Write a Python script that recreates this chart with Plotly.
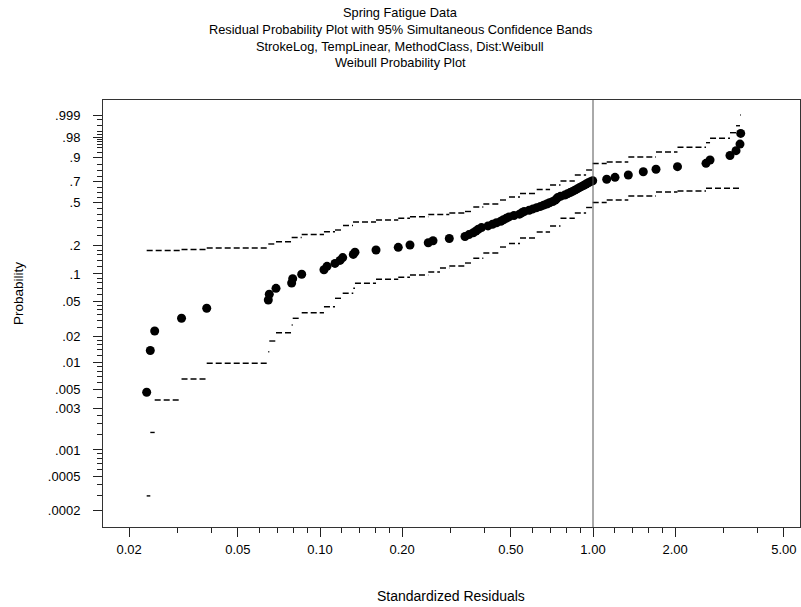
import numpy as np
import plotly.graph_objects as go

# ---------------- data ----------------
resid = [0.02318, 0.02390, 0.02480, 0.03110, 0.03846, 0.06465, 0.06520, 0.06900, 0.07874, 0.07943,
         0.08570, 0.1034, 0.1061, 0.1135, 0.1184, 0.1211, 0.1324, 0.1343, 0.1604, 0.1935,
         0.2136, 0.2492, 0.2594, 0.2976, 0.3397, 0.3513, 0.3643, 0.3727, 0.3800, 0.3904,
         0.4125, 0.4284, 0.4431, 0.4595, 0.4700, 0.4809, 0.4924, 0.5135, 0.5379, 0.5484,
         0.5597, 0.5838, 0.6028, 0.6219, 0.6422, 0.6592, 0.6767, 0.6929, 0.7124, 0.7275,
         0.7349, 0.7424, 0.7601, 0.7876, 0.8062, 0.8248, 0.8412, 0.8577, 0.8752, 0.8916,
         0.9091, 0.9262, 0.9435, 0.9611, 0.9791, 0.9975, 1.1225, 1.2040, 1.3469, 1.5283,
         1.7013, 2.0393, 2.5938, 2.6837, 3.1756, 3.3412, 3.4551, 3.4756]
prob = [0.0046, 0.0138, 0.0230, 0.0321, 0.0416, 0.0515, 0.0597, 0.0695, 0.0796, 0.0888,
        0.0994, 0.1110, 0.1210, 0.1300, 0.1400, 0.1500, 0.1620, 0.1710, 0.1800, 0.1920,
        0.2030, 0.2140, 0.2240, 0.2360, 0.2470, 0.258, 0.269, 0.280, 0.291, 0.302,
        0.313, 0.324, 0.335, 0.346, 0.357, 0.368, 0.379, 0.390, 0.401, 0.412,
        0.423, 0.434, 0.445, 0.456, 0.467, 0.478, 0.489, 0.500, 0.512, 0.524,
        0.536, 0.548, 0.560, 0.572, 0.584, 0.596, 0.608, 0.620, 0.632, 0.644,
        0.656, 0.668, 0.680, 0.692, 0.702, 0.711, 0.7245, 0.743, 0.764, 0.793,
        0.814, 0.835, 0.860, 0.883, 0.911, 0.936, 0.962, 0.987]

upper_x = [0.02318, 0.03110, 0.03846, 0.06465, 0.06900, 0.07874, 0.08570, 0.1034, 0.1135, 0.1214,
           0.1321, 0.1604, 0.1935, 0.2136, 0.2492, 0.2976, 0.3397, 0.3643, 0.3965, 0.4564,
           0.4924, 0.5403, 0.6219, 0.6961, 0.7601, 0.8577, 0.9435, 0.9975, 1.1225, 1.3469,
           1.7013, 2.0393, 2.5938, 2.6837, 3.1756, 3.3412, 3.4551]
upper_p = [0.1780, 0.1823, 0.1889, 0.2077, 0.2192, 0.2416, 0.2587, 0.2756, 0.2862, 0.3160,
           0.3407, 0.3554, 0.3684, 0.3808, 0.3983, 0.4105, 0.4231, 0.4618, 0.4887, 0.5255,
           0.5538, 0.5874, 0.6263, 0.6700, 0.7084, 0.7641, 0.8077, 0.8589, 0.8696, 0.9022,
           0.9297, 0.9505, 0.9665, 0.9779, 0.9880, 0.9951, 0.99914]

lower_x = [0.02318, 0.02390, 0.02480, 0.03110, 0.03846, 0.06465, 0.06520, 0.06900, 0.07874, 0.07943,
           0.08570, 0.1034, 0.1135, 0.1211, 0.1324, 0.1343, 0.1604, 0.1935, 0.2136, 0.2492,
           0.2751, 0.2976, 0.3397, 0.3643, 0.3965, 0.4564, 0.4924, 0.5403, 0.6219, 0.6961,
           0.7601, 0.8577, 0.9435, 0.9975, 1.1225, 1.3469, 1.7013, 2.0393, 2.5938]
lower_p = [0.000297, 0.00159, 0.00375, 0.00652, 0.00986, 0.01339, 0.01772, 0.02203, 0.02694, 0.03209,
           0.03711, 0.04335, 0.05386, 0.06122, 0.06955, 0.07902, 0.08741, 0.09195, 0.0974, 0.1051,
           0.1160, 0.1219, 0.1313, 0.1474, 0.1676, 0.1934, 0.2101, 0.2388, 0.2737, 0.3126,
           0.3684, 0.4105, 0.4574, 0.5023, 0.5255, 0.5634, 0.6020, 0.6117, 0.6380]
band_end = 3.4756

y_tick_p = [0.0002, 0.0005, 0.001, 0.003, 0.005, 0.01, 0.02, 0.05, 0.1, 0.2, 0.5, 0.7, 0.9, 0.98, 0.999]
y_tick_txt = ['.0002', '.0005', '.001', '.003', '.005', '.01', '.02', '.05', '.1', '.2', '.5', '.7', '.9', '.98', '.999']
y_minor_p = [0.0003, 0.0004, 0.0006, 0.0007, 0.0008, 0.0009, 0.0015, 0.002, 0.0025, 0.004,
             0.006, 0.007, 0.008, 0.009, 0.012, 0.014, 0.016, 0.018, 0.025, 0.03, 0.035, 0.04, 0.045,
             0.06, 0.07, 0.08, 0.09, 0.12, 0.14, 0.16, 0.18, 0.25, 0.3, 0.35, 0.4, 0.45,
             0.55, 0.6, 0.65, 0.75, 0.8, 0.85, 0.925, 0.95, 0.96, 0.97, 0.975, 0.985, 0.99, 0.995, 0.998]
x_tick_v = [0.02, 0.05, 0.1, 0.2, 0.5, 1, 2, 5]
x_tick_txt = ['0.02', '0.05', '0.10', '0.20', '0.50', '1.00', '2.00', '5.00']
x_minor_v = [0.03, 0.04, 0.06, 0.07, 0.08, 0.09, 0.12, 0.14, 0.16, 0.18, 0.3, 0.4, 0.6, 0.7, 0.8, 0.9,
             1.2, 1.4, 1.6, 1.8, 3, 4]

title_lines = ["Spring Fatigue Data",
               "Residual Probability Plot with 95% Simultaneous Confidence Bands",
               "StrokeLog, TempLinear, MethodClass, Dist:Weibull",
               "Weibull Probability Plot"]


def wb(p):
    p = np.asarray(p, dtype=float)
    return np.log(-np.log(1.0 - p))


def step_segments(xs, ps, xend):
    ws = wb(ps)
    xx, yy = [], []
    for i in range(len(xs)):
        x1 = xs[i + 1] if i + 1 < len(xs) else xend
        xx += [xs[i], x1, None]
        yy += [ws[i], ws[i], None]
    return xx, yy


FONT = "Liberation Sans, Arial, sans-serif"
fig = go.Figure()

ux, uy = step_segments(upper_x, upper_p, band_end)
lx, ly = step_segments(lower_x, lower_p, band_end)
for xx, yy in [(ux, uy), (lx, ly)]:
    fig.add_trace(go.Scatter(x=xx, y=yy, mode='lines', connectgaps=False,
                             line=dict(color='black', width=1.4, dash='6px,3px'),
                             hoverinfo='skip', showlegend=False))

fig.add_trace(go.Scatter(x=resid, y=wb(prob), mode='markers',
                         marker=dict(color='black', size=9, line=dict(width=0)),
                         showlegend=False))

L, R, T, B = 103, 1, 100, 80
W, H = 801, 607
pw, ph = W - L - R, H - T - B


def px2paper(xp, yp):
    return (xp - L) / pw, (H - B - yp) / ph


fig.add_shape(type='line', xref='x', yref='paper', x0=1, x1=1, y0=0, y1=1,
              line=dict(color='#555555', width=1))

for i, (txt, yp) in enumerate(zip(title_lines, [12, 29, 46, 63])):
    ax, ay = px2paper(400, yp)
    fig.add_annotation(text=txt, x=ax, y=ay, xref='paper', yref='paper', showarrow=False,
                       xanchor='center', yanchor='middle', font=dict(size=12.8, color='black', family=FONT))

ax, ay = px2paper(451, 596)
fig.add_annotation(text="Standardized Residuals", x=ax, y=ay, xref='paper', yref='paper',
                   showarrow=False, xanchor='center', yanchor='middle',
                   font=dict(size=14, color='black', family=FONT))
ax, ay = px2paper(18, 294)
fig.add_annotation(text="Probability", x=ax, y=ay, xref='paper', yref='paper', textangle=-90,
                   showarrow=False, xanchor='center', yanchor='middle',
                   font=dict(size=13.5, color='black', family=FONT))

fig.update_xaxes(type='log', range=[(L - 593) / 273, (W - R - 593) / 273],
                 tickmode='array', tickvals=x_tick_v, ticktext=x_tick_txt,
                 ticks='outside', ticklen=9, tickwidth=1, tickcolor='#222',
                 minor=dict(tickmode='array', tickvals=x_minor_v, ticks='outside', ticklen=5,
                            tickcolor='#222', showgrid=False),
                 showline=True, linecolor='#333', linewidth=1, mirror=True,
                 showgrid=False, zeroline=False, ticklabelstandoff=1,
                 tickfont=dict(size=13, color='black', family=FONT))
fig.update_yaxes(range=[(188.9 - (H - B)) / 37.8, (188.9 - T) / 37.8],
                 tickmode='array', tickvals=wb(y_tick_p), ticktext=y_tick_txt,
                 ticks='outside', ticklen=9, tickwidth=1, tickcolor='#222',
                 minor=dict(tickmode='array', tickvals=wb(y_minor_p), ticks='outside', ticklen=5,
                            tickcolor='#222', showgrid=False),
                 showline=True, linecolor='#333', linewidth=1, mirror=True,
                 showgrid=False, zeroline=False, ticklabelstandoff=10,
                 tickfont=dict(size=13, color='black', family=FONT))

fig.update_layout(width=W, height=H, margin=dict(l=L, r=R, t=T, b=B),
                  paper_bgcolor='white', plot_bgcolor='white', showlegend=False,
                  font=dict(family=FONT, color='black'))

fig.write_html("out.html")
